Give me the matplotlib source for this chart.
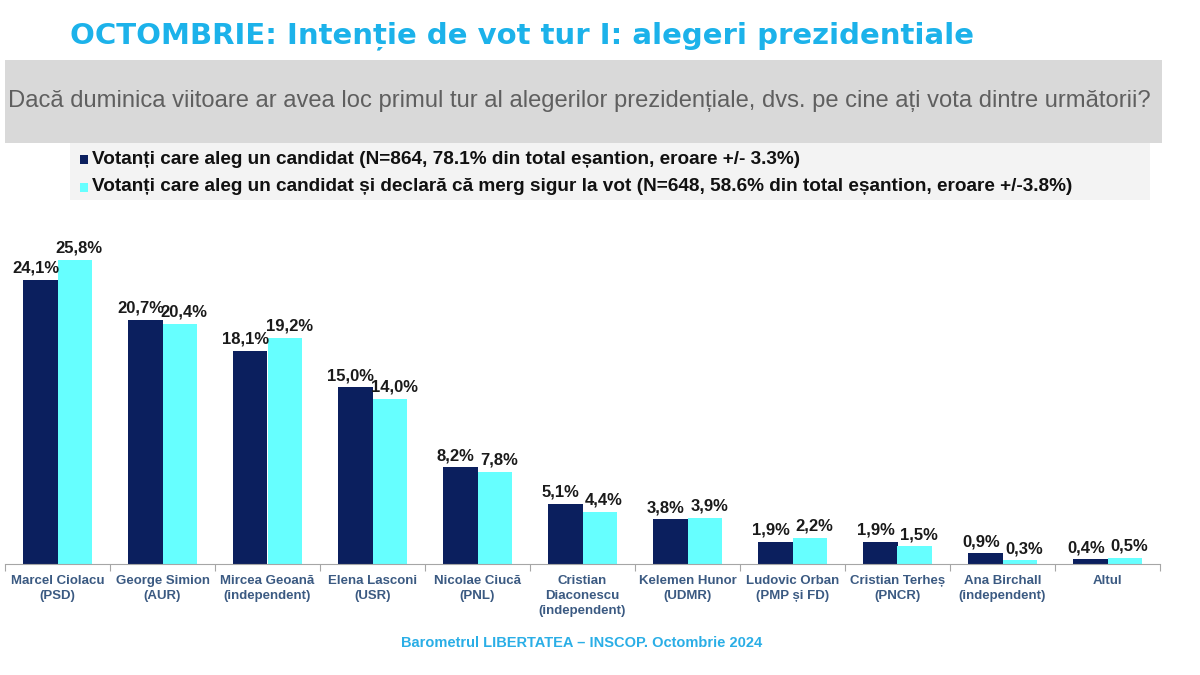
import matplotlib
matplotlib.use("Agg")
import matplotlib.pyplot as plt
from matplotlib.patches import Rectangle
import numpy as np

categories = ["Marcel Ciolacu\n(PSD)", "George Simion\n(AUR)", "Mircea Geoană\n(independent)",
              "Elena Lasconi\n(USR)", "Nicolae Ciucă\n(PNL)", "Cristian\nDiaconescu\n(independent)",
              "Kelemen Hunor\n(UDMR)", "Ludovic Orban\n(PMP și FD)", "Cristian Terheș\n(PNCR)",
              "Ana Birchall\n(independent)", "Altul"]
series_all = [24.1, 20.7, 18.1, 15.0, 8.2, 5.1, 3.8, 1.9, 1.9, 0.9, 0.4]
series_sure = [25.8, 20.4, 19.2, 14.0, 7.8, 4.4, 3.9, 2.2, 1.5, 0.3, 0.5]
legend_labels = ["Votanți care aleg un candidat (N=864, 78.1% din total eșantion, eroare +/- 3.3%)",
                 "Votanți care aleg un candidat și declară că merg sigur la vot (N=648, 58.6% din total eșantion, eroare +/-3.8%)"]
title = "OCTOMBRIE: Intenție de vot tur I: alegeri prezidentiale"
question = "Dacă duminica viitoare ar avea loc primul tur al alegerilor prezidențiale, dvs. pe cine ați vota dintre următorii?"
footer = "Barometrul LIBERTATEA – INSCOP. Octombrie 2024"

DARK = "#0b1f5e"
CYAN = "#66ffff"
W, H = 1200, 675

plt.rcParams['font.family'] = ['Liberation Sans', 'DejaVu Sans']

fig = plt.figure(figsize=(12, 6.75), dpi=100)

def fx(px):
    return px / W

def fy(py):
    return 1 - py / H

# Title
fig.text(fx(70), fy(36), title, family=['DejaVu Sans'],
         fontsize=21, fontweight='bold', color='#1cb2ea', ha='left', va='center')

# grey question box
fig.add_artist(Rectangle((fx(5), fy(143)), fx(1162) - fx(5), fy(60) - fy(143),
                         transform=fig.transFigure, facecolor='#d9d9d9', edgecolor='none', zorder=0))
fig.text(fx(8), fy(101), question, fontsize=17.1, color='#5f5f5f', ha='left', va='center')

# legend box
fig.add_artist(Rectangle((fx(70), fy(200)), fx(1150) - fx(70), fy(143) - fy(200),
                         transform=fig.transFigure, facecolor='#f3f3f3', edgecolor='none', zorder=0))
for k, (lab, col) in enumerate(zip(legend_labels, [DARK, CYAN])):
    yc = 159 + k * 28
    fig.add_artist(Rectangle((fx(80), fy(yc + 5)), fx(8), fy(0) - fy(9),
                             transform=fig.transFigure, facecolor=col, edgecolor='none'))
    fig.text(fx(92), fy(yc), lab, fontsize=13.7, fontweight='bold', color='#111111',
             ha='left', va='center')

# chart axes
ax = fig.add_axes([fx(5), fy(564), fx(1160) - fx(5), fy(234) - fy(564)])
x = np.arange(len(categories))
bw = 0.333
b1 = ax.bar(x - bw / 2, series_all, bw, color=DARK, zorder=2)
b2 = ax.bar(x + bw / 2, series_sure, bw, color=CYAN, zorder=2)
ax.set_xlim(-0.5, len(categories) - 0.5)
ax.set_ylim(0, 28)
for bars, vals, dx in [(b1, series_all, -3), (b2, series_sure, 3)]:
    for r, v in zip(bars, vals):
        ax.annotate(f"{v:.1f}%".replace('.', ','), (r.get_x() + r.get_width() / 2, v),
                    xytext=(dx, 3), textcoords='offset points', ha='center', va='bottom',
                    fontsize=12, fontweight='bold', color='#1a1a1a')

for s in ['top', 'right', 'left']:
    ax.spines[s].set_visible(False)
ax.spines['bottom'].set_color('#a6a6a6')
ax.set_yticks([])
ax.set_xticks(np.arange(len(categories) + 1) - 0.5, minor=False)
ax.set_xticklabels([])
ax.tick_params(axis='x', which='major', length=5, color='#a6a6a6', direction='out')
ax.set_xticks(x, minor=True)
ax.set_xticklabels(categories, minor=True, fontsize=9.5, fontweight='bold', color='#3b5a82',
                   linespacing=1.35)
ax.tick_params(axis='x', which='minor', length=0, pad=8)

fig.text(0.485, fy(643), footer, fontsize=10.5, fontweight='bold', color='#2aaee6',
         ha='center', va='center')

fig.savefig("out.png", dpi=100)
